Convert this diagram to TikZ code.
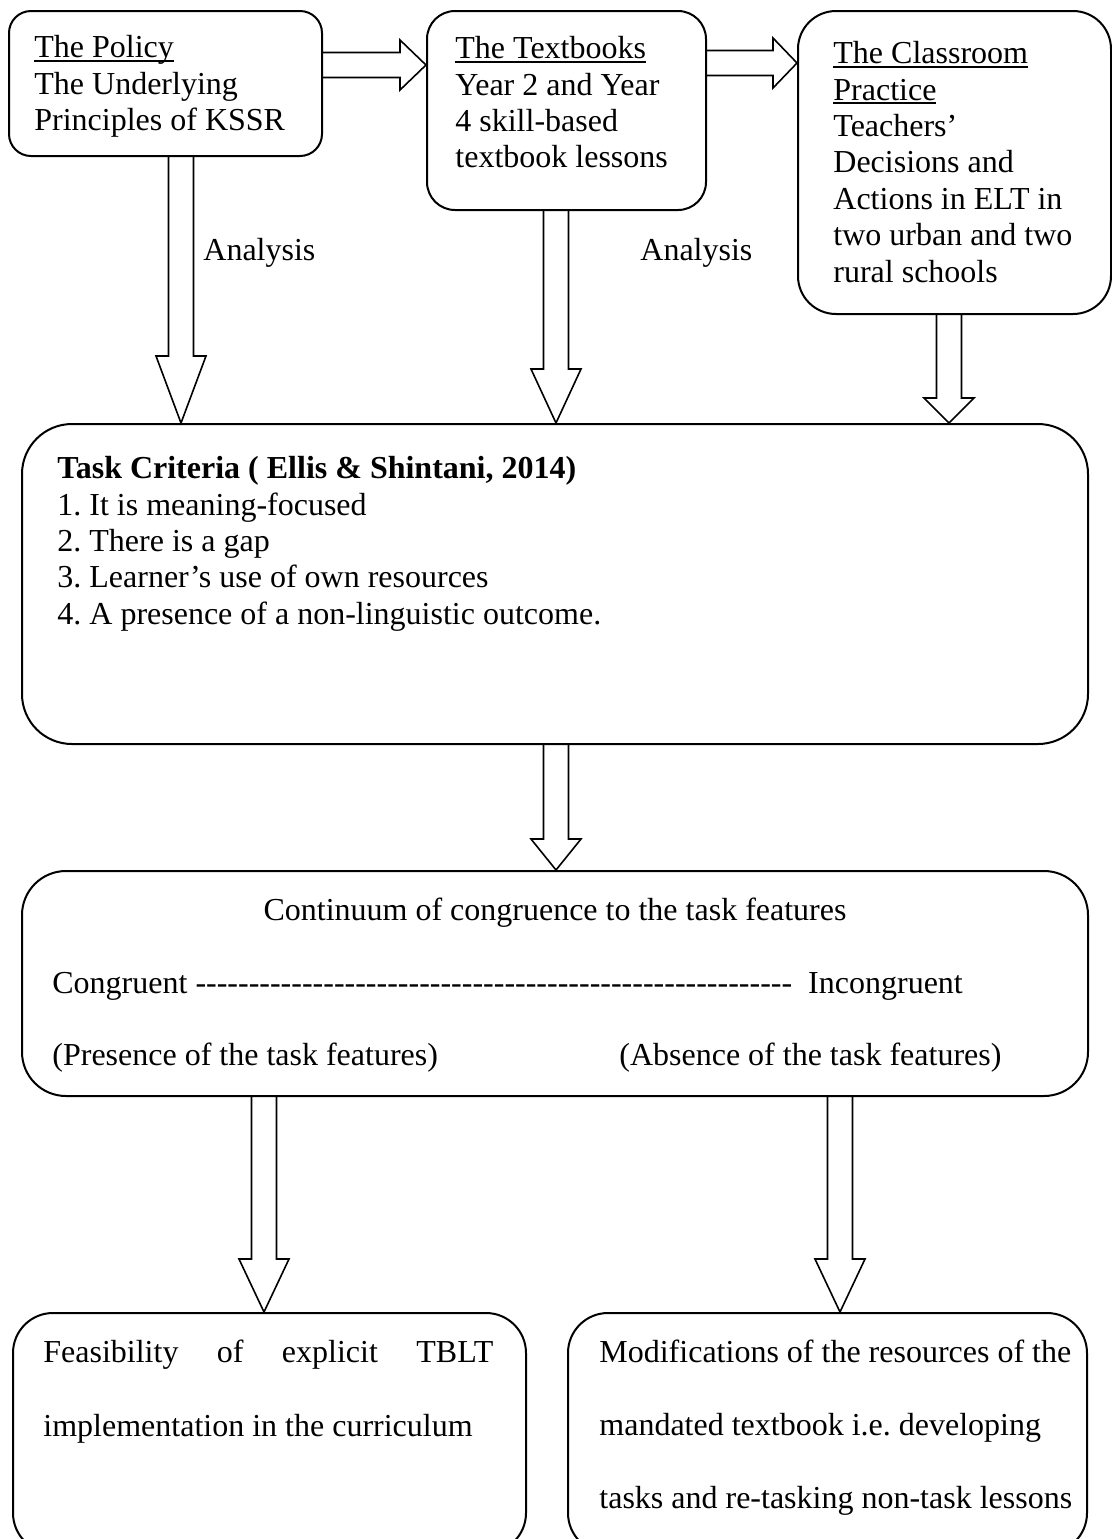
\documentclass[tikz,border=0pt]{standalone}
\usepackage{fontspec}
\setmainfont{Liberation Serif}
\usepackage{tikz}
\usetikzlibrary{positioning, calc}
\newcommand{\bodysz}{\fontsize{16pt}{18.2pt}\selectfont\frenchspacing}
\newcommand{\undl}[1]{\setbox0\hbox{#1}\rlap{\rule[-0.13em]{\wd0}{0.06em}}\box0}
\newcommand{\dashrun}{\foreach \k in {1,...,56}{-}}
% hollow block arrows: start, tip, head length
\newcommand{\fatdown}[3]{\draw[fatline] ($(#1)+(-12.5,0)$) -- ($(#1 |- #2)+(-12.5,-#3)$) -- ($(#1 |- #2)+(-25,-#3)$)
  -- (#2) -- ($(#1 |- #2)+(25,-#3)$) -- ($(#1 |- #2)+(12.5,-#3)$) -- ($(#1)+(12.5,0)$);}
\newcommand{\fatright}[3]{\draw[fatline] ($(#1)+(0,-12.5)$) -- ($(#1 -| #2)+(-#3,-12.5)$) -- ($(#1 -| #2)+(-#3,-25)$)
  -- (#2) -- ($(#1 -| #2)+(-#3,25)$) -- ($(#1 -| #2)+(-#3,12.5)$) -- ($(#1)+(0,12.5)$);}

\begin{document}
\begin{tikzpicture}[x=0.5pt, y=-0.5pt, font=\bodysz,
  box/.style={draw, line width=1pt, inner sep=0pt, anchor=north west},
  txt/.style={anchor=north west, inner sep=0pt, align=left},
  fatline/.style={draw, line width=0.8pt, line join=miter}]
  \useasboundingbox (0,0) rectangle (1112,1539);
  % top row
  \node[box, rounded corners=11pt, minimum width=156.5pt, minimum height=72.5pt] (policy) at (8,10) {};
  \node[box, rounded corners=14pt, minimum width=139.5pt, minimum height=99.5pt] (textbooks) at (426,10) {};
  \node[box, rounded corners=19pt, minimum width=156.5pt, minimum height=151.5pt] (classroom) at (797,10) {};
  \node[txt] (policytxt) at ([shift={(26,25)}]policy.north west) {\undl{The Policy}\\The Underlying\\Principles of KSSR};
  \node[txt] (textbookstxt) at ([shift={(29,26)}]textbooks.north west) {\undl{The Textbooks}\\Year 2 and Year\\4 skill-based\\textbook lessons};
  \node[txt] (classroomtxt) at ([shift={(36,31)}]classroom.north west) {\undl{The Classroom}\\\undl{Practice}\\Teachers’\\Decisions and\\Actions in ELT in\\two urban and two\\rural schools};
  % middle
  \node[box, rounded corners=25pt, minimum width=533pt, minimum height=160pt] (task) at (21,423) {};
  \node[txt] (tasktxt) at ([shift={(36,33)}]task.north west) {\textbf{Task Criteria ( Ellis \& Shintani, 2014)}\\1. It is meaning-focused\\2. There is a gap\\3. Learner’s use of own resources\\4. A presence of a non-linguistic outcome.};
  \node[box, rounded corners=22pt, minimum width=533pt, minimum height=112.5pt] (cont) at (21,870) {};
  \node[anchor=base, inner sep=0pt] (conttitle) at ($(cont.north)+(0,50)$) {Continuum of congruence to the task features};
  \node[anchor=base west, inner sep=0pt] (contscale) at ($(cont.north west)+(31,123)$) {Congruent \dashrun\ \ Incongruent};
  \node[anchor=base west, inner sep=0pt] (presence) at ($(cont.north west)+(31,195)$) {(Presence of the task features)};
  \node[anchor=base west, inner sep=0pt] (absence) at ($(cont.north west)+(598,195)$) {(Absence of the task features)};
  % bottom row
  \node[box, rounded corners=20pt, minimum width=256.5pt, minimum height=120pt] (feas) at (12,1312) {};
  \node[box, rounded corners=20pt, minimum width=259.5pt, minimum height=120pt] (modif) at (567,1312) {};
  \node[txt, text width=225pt, align=justify, font=\fontsize{16pt}{37pt}\selectfont\frenchspacing] (feastxt) at ([shift={(31,28)}]feas.north west)
    {Feasibility of explicit TBLT\linebreak implementation in the curriculum};
  \node[txt, font=\fontsize{16pt}{36.5pt}\selectfont\frenchspacing] (modiftxt) at ([shift={(32,28)}]modif.north west)
    {Modifications of the resources of the\\mandated textbook i.e. developing\\tasks and re-tasking non-task lessons};
  % arrows
  \coordinate (pr0) at ($(policy.east)+(0,-18.5)$);   \coordinate (pr1) at (pr0 -| textbooks.west);
  \coordinate (tr0) at ($(textbooks.east)+(0,-47.5)$); \coordinate (tr1) at (tr0 -| classroom.west);
  \fatright{pr0}{pr1}{26}
  \fatright{tr0}{tr1}{24}
  \coordinate (pd0) at ($(policy.south)+(15.5,0)$);     \coordinate (pd1) at (pd0 |- task.north);
  \coordinate (td0) at ($(textbooks.south)+(-10.5,0)$); \coordinate (td1) at (td0 |- task.north);
  \coordinate (cd0) at ($(classroom.south)+(-5.5,0)$);  \coordinate (cd1) at (cd0 |- task.north);
  \coordinate (kd0) at ($(task.south)+(1,0)$);          \coordinate (kd1) at (kd0 |- cont.north);
  \coordinate (fd0) at ($(cont.south)+(-291,0)$);       \coordinate (fd1) at (fd0 |- feas.north);
  \coordinate (md0) at ($(cont.south)+(285,0)$);        \coordinate (md1) at (md0 |- modif.north);
  \fatdown{pd0}{pd1}{67}
  \fatdown{td0}{td1}{54}
  \fatdown{cd0}{cd1}{25}
  \fatdown{kd0}{kd1}{31}
  \fatdown{fd0}{fd1}{53}
  \fatdown{md0}{md1}{53}
  \node[anchor=base west, inner sep=0pt] (analysis1) at (203,260) {Analysis};
  \node[anchor=base west, inner sep=0pt] (analysis2) at (640,260) {Analysis};
\end{tikzpicture}
\end{document}
